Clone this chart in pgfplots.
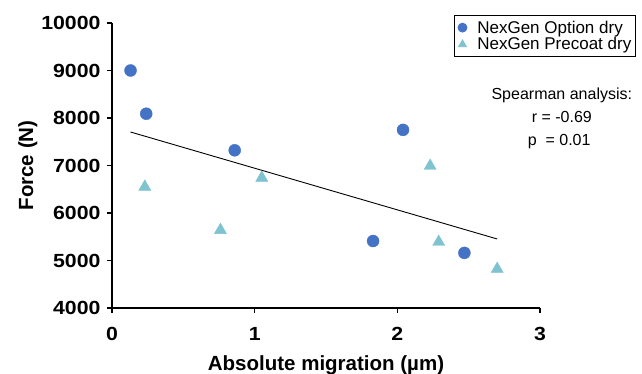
\documentclass[border=0pt]{standalone}
\usepackage{pgfplots}
\pgfplotsset{compat=1.18}
\usepackage{fontspec}
\setmainfont{Liberation Sans}
\newfontfamily\tickfont{Liberation Sans}[FakeStretch=1.12]
\definecolor{optblue}{HTML}{4472C4}
\definecolor{precyan}{HTML}{7EC3CF}
\begin{document}
\begin{tikzpicture}[x=1pt,y=1pt]
\useasboundingbox (0,0) rectangle (642,374);
\begin{axis}[
  at={(112pt,66pt)}, anchor=south west,
  scale only axis, width=428pt, height=285pt,
  xmin=0, xmax=3, ymin=4000, ymax=10000,
  axis lines=left, axis line style={-, line width=1.2pt},
  xtick={0,1,2,3}, ytick={4000,5000,...,10000},
  scaled ticks=false,
  tick style={black, line width=1.2pt},
  major tick length=5pt,
  tick align=outside,
  /pgf/number format/assume math mode=true,
  /pgf/number format/1000 sep={},
  ticklabel style={font=\tickfont\fontsize{19}{22}\selectfont\bfseries},
  xticklabel style={yshift=-11pt},
  yticklabel style={xshift=-3pt},
  xlabel={Absolute migration (µm)},
  ylabel={Force (N)},
  label style={font=\fontsize{20.5}{24}\selectfont\bfseries},
  xlabel style={yshift=-8pt},
  ylabel style={yshift=-3pt},
  clip=false,
  legend style={at={(0.80,1.027)}, anchor=north west, draw=black, line width=0.8pt,
    font=\fontsize{17}{20}\selectfont, row sep=-1pt, inner xsep=2pt, inner ysep=3pt,
    cells={anchor=west}},
  legend image code/.code={\path[draw=none] (0,0) -- (0.65cm,0); \draw[#1, mark size=4.5pt] plot coordinates {(0.2cm,0cm)};},
]
\addplot[only marks, mark=*, mark size=6pt, color=optblue] coordinates {
  (0.13,9000) (0.24,8090) (0.86,7320) (1.83,5410) (2.04,7750) (2.47,5160)
};
\addlegendentry{NexGen Option dry}
\addplot[only marks, mark=triangle*, mark size=7pt, color=precyan] coordinates {
  (0.23,6550) (0.76,5640) (1.05,6740) (2.23,6990) (2.29,5390) (2.70,4820)
};
\addlegendentry{NexGen Precoat dry}
\addplot[black, line width=0.9pt, forget plot] coordinates {(0.13,7705) (2.70,5453)};
\node[align=center, font=\fontsize{16}{23}\selectfont] at (rel axis cs:1.051,0.665)
  {Spearman analysis:\\r = -0.69\\p\ \ = 0.01\phantom{-}};
\end{axis}
\end{tikzpicture}
\end{document}
